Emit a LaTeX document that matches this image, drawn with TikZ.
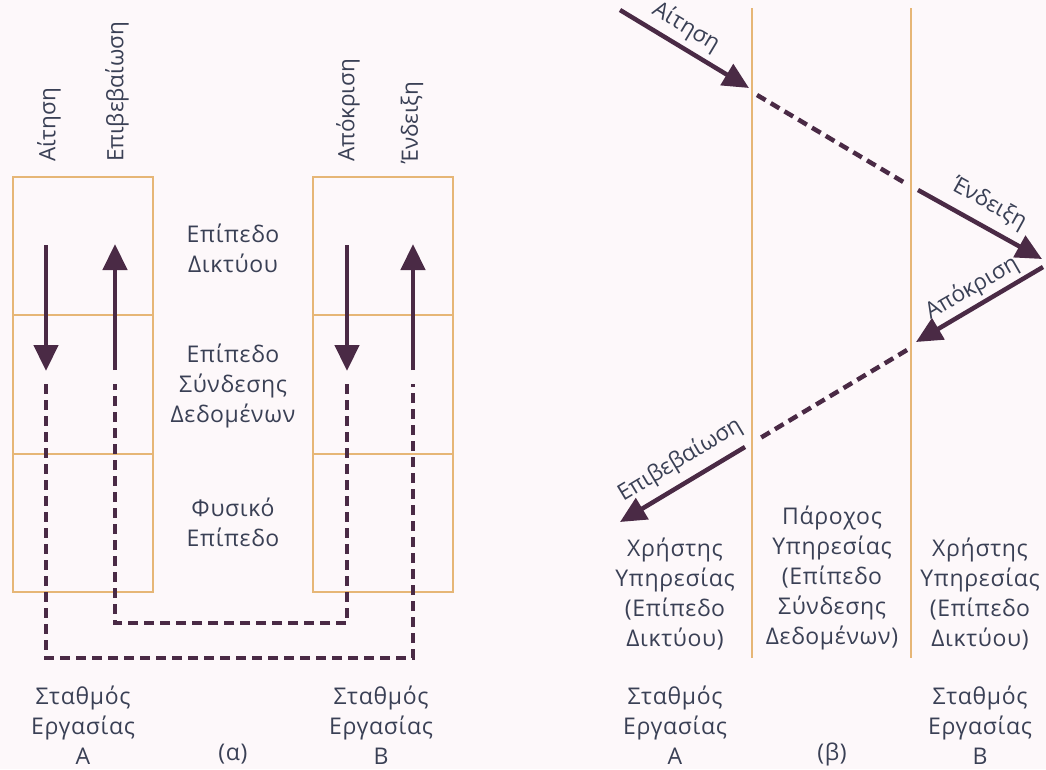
\documentclass[tikz,border=0pt]{standalone}
\usepackage{fontspec}
\setmainfont{Open Sans}[LetterSpace=3]
\newfontfamily\lblfont{Open Sans}
\usetikzlibrary{arrows.meta}
\definecolor{ink}{HTML}{3A4055}
\definecolor{arrowc}{HTML}{4A2A45}
\definecolor{frame}{HTML}{E6B676}
\definecolor{paper}{HTML}{FDF8FA}
\begin{document}
\begin{tikzpicture}[x=1pt,y=-1pt,
  cell/.style={draw=frame, line width=2pt, minimum width=140pt, minimum height=138.5pt, inner sep=0pt},
  txt/.style={text=ink, font=\fontsize{23}{30}\selectfont, align=center, inner sep=0pt},
  lbl/.style={text=ink, font=\lblfont\fontsize{22.5}{24}\selectfont, inner sep=0pt},
  msg/.style={draw=arrowc, line width=4.5pt, -{Triangle[length=26pt,width=24pt]}},
  dsh/.style={draw=arrowc, line width=4.5pt, dash pattern=on 10pt off 6pt},
  lifeline/.style={draw=frame, line width=2.5pt}]

% canvas
\fill[paper] (0,0) rectangle (1046,769);
\useasboundingbox (0,0) rectangle (1046,769);

% ---------- (a): layer stacks of the two stations ----------
\node[cell] (a1) at (83,246) {};
\node[cell] (a2) at (83,384.5) {};
\node[cell] (a3) at (83,523) {};
\node[cell] (b1) at (382.5,246) {};
\node[cell] (b2) at (382.5,384.5) {};
\node[cell] (b3) at (382.5,523) {};

\node[txt] (l1) at (233,248) {Επίπεδο\\Δικτύου};
\node[txt] (l2) at (233,386) {Επίπεδο\\Σύνδεσης\\Δεδομένων};
\node[txt] (l3) at (233,522) {Φυσικό\\Επίπεδο};

% primitive names above the stacks
\node[lbl, rotate=90, anchor=west] (pa1) at (49,162) {Αίτηση};
\node[lbl, rotate=90, anchor=west] (pa2) at (117,162) {Επιβεβαίωση};
\node[lbl, rotate=90, anchor=west] (pb1) at (348,162) {Απόκριση};
\node[lbl, rotate=90, anchor=west] (pb2) at (412,164) {Ένδειξη};

% solid primitives inside the network layer
\coordinate (ra0) at (46,245);  \coordinate (ra1) at (46,371);
\coordinate (ca0) at (115,370); \coordinate (ca1) at (115,244);
\coordinate (rb0) at (347,245); \coordinate (rb1) at (347,371);
\coordinate (ib0) at (413,370); \coordinate (ib1) at (413,244);
\draw[msg] (ra0) -- (ra1);
\draw[msg] (ca0) -- (ca1);
\draw[msg] (rb0) -- (rb1);
\draw[msg] (ib0) -- (ib1);

% frames travelling through the lower layers
\coordinate (da0) at (46,384);  \coordinate (db0) at (413,384);
\coordinate (dc0) at (347,384); \coordinate (dd0) at (115,384);
\draw[dsh] (da0) -- (46,658) -- (413,658) -- (db0);
\draw[dsh] (dc0) -- (347,623) -- (115,623) -- (dd0);

\node[txt] (sa) at (83,725) {Σταθμός\\Εργασίας\\Α};
\node[txt] (sb) at (381,725) {Σταθμός\\Εργασίας\\Β};
\node[txt] (cap1) at (233,754) {(α)};

% ---------- (b): time sequence of the primitives ----------
\coordinate (u1) at (752,8);  \coordinate (u2) at (752,658);
\coordinate (v1) at (911,8);  \coordinate (v2) at (911,658);
\draw[lifeline] (u1) -- (u2);
\draw[lifeline] (v1) -- (v2);

\coordinate (q0) at (620,10);   \coordinate (q1) at (749,88);
\coordinate (q2) at (757,95);   \coordinate (q3) at (905,183);
\coordinate (q4) at (918,190);  \coordinate (q5) at (1042,259);
\coordinate (r0) at (1043,267); \coordinate (r1) at (916,342);
\coordinate (r2) at (907,350);  \coordinate (r3) at (757,440);
\coordinate (r4) at (745,447);  \coordinate (r5) at (620,522);
\draw[msg] (q0) -- (q1);
\draw[dsh] (q2) -- (q3);
\draw[msg] (q4) -- (q5);
\draw[msg] (r0) -- (r1);
\draw[dsh] (r2) -- (r3);
\draw[msg] (r4) -- (r5);

\node[lbl, rotate=-31] (t1) at (686,27) {Αίτηση};
\node[lbl, rotate=-29] (t2) at (989,204) {Ένδειξη};
\node[lbl, rotate=30] (t3) at (972,288) {Απόκριση};
\node[lbl, rotate=31] (t4) at (680,460) {Επιβεβαίωση};

\node[txt] (ua) at (675,594) {Χρήστης\\Υπηρεσίας\\(Επίπεδο\\Δικτύου)};
\node[txt] (pv) at (832,578) {Πάροχος\\Υπηρεσίας\\(Επίπεδο\\Σύνδεσης\\Δεδομένων)};
\node[txt] (ub) at (980,594) {Χρήστης\\Υπηρεσίας\\(Επίπεδο\\Δικτύου)};

\node[txt] (sa2) at (675,725) {Σταθμός\\Εργασίας\\Α};
\node[txt] (sb2) at (980,725) {Σταθμός\\Εργασίας\\Β};
\node[txt] (cap2) at (832,754) {(β)};
\end{tikzpicture}
\end{document}
